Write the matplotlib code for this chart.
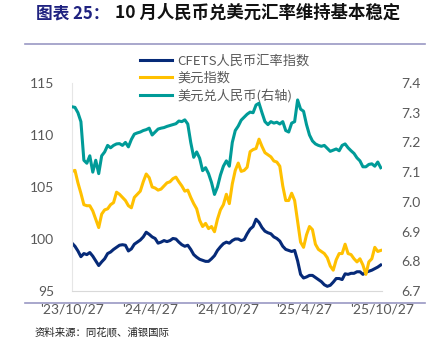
import matplotlib
matplotlib.use("Agg")
import matplotlib.pyplot as plt
import pandas as pd

# weekly observations, 2023-10-27 .. 2025-10-24
dates = pd.date_range("2023-10-27", periods=105, freq="7D")

cfets = [99.6, 99.3, 98.85, 98.3, 98.6, 98.5, 98.7, 98.35, 97.9, 97.45,
         97.8, 98.1, 98.6, 98.75, 99.0, 99.2, 99.4, 99.45, 99.4, 98.85,
         99.05, 99.5, 99.7, 99.9, 100.2, 100.65, 100.45, 100.2, 100.05, 99.6,
         99.7, 99.85, 99.75, 99.85, 100.05, 100.0, 99.7, 99.45, 99.3, 99.4,
         99.0, 98.5, 98.25, 98.05, 97.95, 97.85, 97.85, 98.1, 98.4, 98.9,
         99.25, 99.55, 99.7, 99.6, 99.85, 100.0, 100.0, 99.85, 99.95, 100.5,
         100.95, 101.2, 101.9, 101.6, 101.1, 100.75, 100.6, 100.5, 100.2, 100.05,
         99.8, 99.3, 99.0, 98.9, 98.8, 98.9, 97.9, 96.6, 96.25, 96.35,
         96.5, 96.5, 96.3, 96.1, 95.9, 95.6, 95.45, 95.55, 95.85, 96.2,
         96.2, 96.1, 96.65, 96.6, 96.7, 96.7, 96.85, 96.85, 96.6, 96.8,
         96.9, 97.0, 97.15, 97.3, 97.5]

dxy = [106.5, 106.6, 105.4, 104.4, 103.3, 103.2, 103.2, 102.7, 101.9, 101.1,
       102.4, 102.8, 102.9, 103.3, 103.5, 104.5, 104.3, 104.0, 103.7, 103.2,
       103.0, 104.0, 104.3, 104.6, 105.5, 106.25, 105.9, 105.0, 104.9, 104.7,
       104.8, 105.1, 105.4, 105.5, 105.8, 105.95, 105.5, 105.1, 104.6, 104.7,
       104.0, 103.4, 102.9, 101.8, 101.2, 101.5, 101.0, 101.2, 100.7, 101.9,
       102.8, 103.3, 104.3, 103.4, 105.3, 106.6, 107.3, 106.5, 106.6, 106.9,
       108.4, 108.6, 108.7, 109.6, 108.9, 108.3, 108.1, 107.9, 107.5, 107.4,
       107.0, 105.1, 103.7, 103.7, 104.4, 103.7, 101.7, 99.7, 99.2, 100.4,
       101.2, 100.9, 99.5, 99.0, 98.8, 98.6, 98.2, 97.4, 97.0, 98.0,
       98.6, 98.6, 99.5, 98.6, 98.5, 98.1, 97.8, 98.1, 97.5, 96.6,
       97.8, 98.1, 99.2, 98.8, 98.9]

usdcny = [7.32, 7.318, 7.30, 7.27, 7.14, 7.13, 7.155, 7.10, 7.14, 7.095,
          7.155, 7.168, 7.19, 7.182, 7.19, 7.195, 7.196, 7.19, 7.20, 7.185,
          7.21, 7.228, 7.232, 7.235, 7.24, 7.243, 7.248, 7.225, 7.235, 7.245,
          7.248, 7.25, 7.254, 7.257, 7.26, 7.263, 7.272, 7.27, 7.276, 7.262,
          7.20, 7.15, 7.168, 7.147, 7.105, 7.115, 7.095, 7.065, 7.025, 7.05,
          7.09, 7.12, 7.138, 7.12, 7.20, 7.24, 7.255, 7.275, 7.285, 7.295,
          7.302, 7.30, 7.326, 7.332, 7.30, 7.27, 7.26, 7.27, 7.265, 7.268,
          7.262, 7.27, 7.24, 7.235, 7.265, 7.27, 7.343, 7.312, 7.305, 7.26,
          7.225, 7.205, 7.195, 7.19, 7.187, 7.19, 7.18, 7.17, 7.174, 7.178,
          7.172, 7.19, 7.195, 7.182, 7.172, 7.163, 7.148, 7.138, 7.118, 7.118,
          7.126, 7.128, 7.12, 7.134, 7.115]

xtick_dates = pd.to_datetime(["2023-10-27", "2024-04-27", "2024-10-27",
                              "2025-04-27", "2025-10-27"])
xtick_labels = ["'23/10/27", "'24/4/27", "'24/10/27", "'25/4/27", "'25/10/27"]
left_ticks = [95, 100, 105, 110, 115]
right_ticks = [6.7, 6.8, 6.9, 7.0, 7.1, 7.2, 7.3, 7.4]

labels = ["CFETS人民币汇率指数", "美元指数", "美元兑人民币(右轴)"]
colors = ["#062a78", "#ffc000", "#009b98"]

fam = ["Lato", "Noto Sans CJK SC", "DejaVu Sans"]
plt.rcParams["font.family"] = fam

fig = plt.figure(figsize=(4.3, 3.55), dpi=100)
ax = fig.add_axes([72 / 430, 1 - 291 / 355, 310 / 430, 208 / 355])
ax2 = ax.twinx()

l1, = ax.plot(dates, cfets, color=colors[0], lw=2.2, label=labels[0])
l2, = ax.plot(dates, dxy, color=colors[1], lw=2.2, label=labels[1])
l3, = ax2.plot(dates, usdcny, color=colors[2], lw=2.2, label=labels[2])

ax.set_xlim(pd.Timestamp("2023-10-27"), pd.Timestamp("2025-10-27"))
ax.set_ylim(95, 115)
ax2.set_ylim(6.7, 7.4)
ax.set_xticks(xtick_dates)
ax.set_xticklabels(xtick_labels)
ax.set_yticks(left_ticks)
ax2.set_yticks(right_ticks)
ax2.set_yticklabels([f"{v:.1f}" for v in right_ticks])

grey = "#595959"
for a in (ax, ax2):
    a.tick_params(length=0, labelsize=10, colors=grey)
    for s in a.spines.values():
        s.set_visible(False)
ax.tick_params(axis="y", pad=13)
ax2.tick_params(axis="y", pad=14)
ax.tick_params(axis="x", pad=9)
ax.spines["bottom"].set_visible(True)
ax.spines["bottom"].set_color("#d9d9d9")
ax.spines["left"].set_visible(True)
ax.spines["left"].set_color("#e6e6e6")

leg = fig.legend(handles=[l1, l2, l3], loc="upper left",
                 bbox_to_anchor=(140 / 430, 1 - 55 / 355), frameon=False,
                 prop={"family": ["Noto Sans CJK SC", "DejaVu Sans"], "size": 9.5},
                 handlelength=2.4, handletextpad=0.45, labelspacing=0.3,
                 borderaxespad=0, borderpad=0)
for t in leg.get_texts():
    t.set_color(grey)

# title
fig.text(36 / 430, 1 - 13 / 355, "图表 25：", fontsize=12, fontweight="bold",
         color="#1f2280", family=["Noto Sans CJK SC"], va="center")
fig.text(115 / 430, 1 - 13 / 355, "10 月人民币兑美元汇率维持基本稳定", fontsize=12.5,
         fontweight="bold", color="#111111", family=["Noto Sans CJK SC"], va="center")

# rules and source
fig.add_artist(plt.Line2D([25 / 430, 425 / 430], [1 - 44 / 355] * 2,
                          color="#9a98c4", lw=1.2))
fig.add_artist(plt.Line2D([25 / 430, 425 / 430], [1 - 303 / 355] * 2,
                          color="#9a98c4", lw=1.2))
fig.text(35 / 430, 1 - 332 / 355, "资料来源：同花顺、浦银国际", fontsize=7.5,
         color="#222222", family=["Noto Sans CJK SC"], va="center")

fig.savefig("out.png", dpi=100)
